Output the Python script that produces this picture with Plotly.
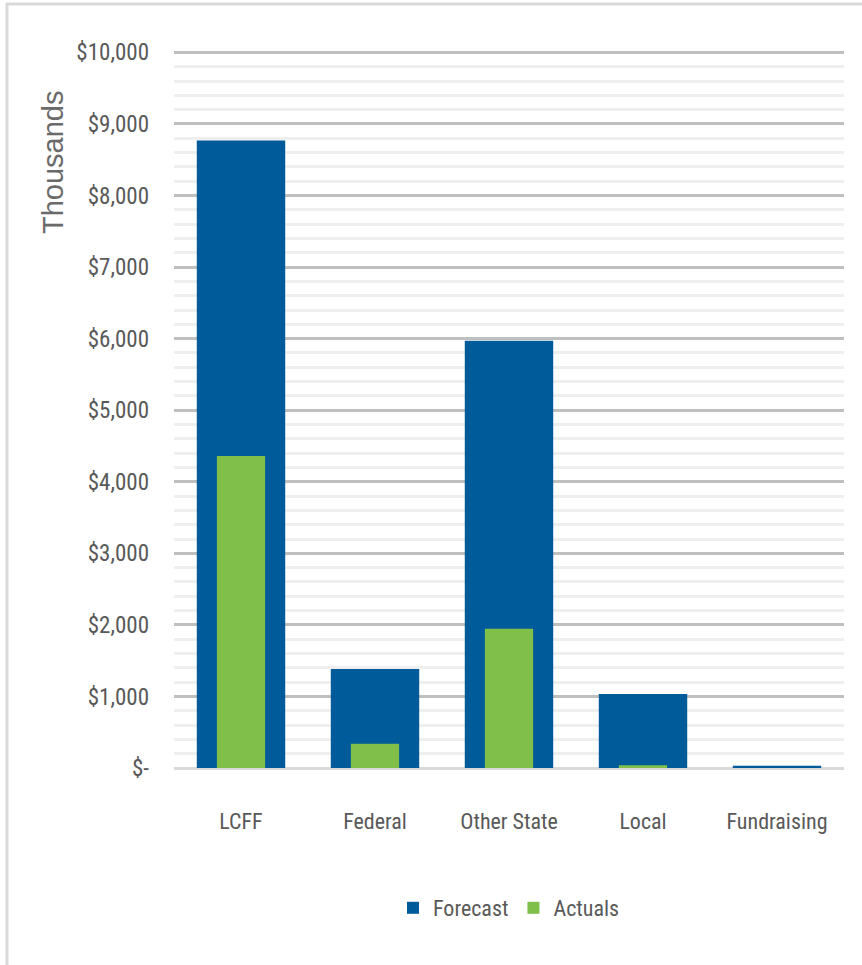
import plotly.graph_objects as go

categories = ["LCFF", "Federal", "Other State", "Local", "Fundraising"]
forecast = [8770, 1385, 5970, 1035, 30]
actuals = [4360, 340, 1945, 40, 0]

tick_vals = [0, 1000, 2000, 3000, 4000, 5000, 6000, 7000, 8000, 9000, 10000]
tick_text = ["$-", "$1,000", "$2,000", "$3,000", "$4,000", "$5,000",
             "$6,000", "$7,000", "$8,000", "$9,000", "$10,000"]

FONT = "Liberation Sans Narrow, Arial Narrow, Roboto Condensed, sans-serif"
GRAY = "#595959"

L, R, T, B = 174, 18, 51, 197
W, H = 862, 965
pw, ph = W - L - R, H - T - B


def px_x(x):
    return (x - L) / pw


def px_y(y):
    return (H - B - y) / ph


fig = go.Figure()
fig.add_trace(go.Bar(x=categories, y=forecast, name="Forecast",
                     marker=dict(color="#005b9a", line=dict(width=0)), width=0.66))
fig.add_trace(go.Bar(x=categories, y=actuals, name="Actuals",
                     marker=dict(color="#7fbf4a", line=dict(width=0)), width=0.36))

fig.update_layout(
    width=W, height=H,
    barmode="overlay",
    plot_bgcolor="white", paper_bgcolor="white",
    margin=dict(l=L, r=R, t=T, b=B),
    font=dict(family=FONT, color=GRAY, size=21),
    showlegend=True,
    legend=dict(orientation="h", x=0.5, xanchor="center", y=px_y(887), yanchor="top",
                font=dict(size=22, family=FONT, color=GRAY), itemwidth=30,
                traceorder="normal"),
    xaxis=dict(showgrid=False, showline=False, ticks="", ticklabelstandoff=38,
               tickfont=dict(size=22, family=FONT, color=GRAY)),
    yaxis=dict(range=[0, 10020], tickvals=tick_vals, ticktext=tick_text,
               showgrid=True, gridcolor="#bfbfbf", gridwidth=2.5,
               zeroline=True, zerolinecolor="#d9d9d9", zerolinewidth=3,
               minor=dict(dtick=200, showgrid=True, gridcolor="#efefef", gridwidth=2.5, ticks=""),
               ticks="", ticklabelstandoff=24,
               tickfont=dict(size=23, family=FONT, color=GRAY)),
    annotations=[dict(text="Thousands", xref="paper", yref="paper",
                      x=px_x(53), y=px_y(162), xanchor="center", yanchor="middle",
                      textangle=-90, showarrow=False,
                      font=dict(family="Liberation Sans, Arial, sans-serif", size=29, color="#6a6a6a"))],
    shapes=[
        dict(type="line", xref="paper", yref="paper", x0=px_x(6), x1=px_x(870), y0=px_y(4), y1=px_y(4),
             line=dict(color="#d9d9d9", width=3)),
        dict(type="line", xref="paper", yref="paper", x0=px_x(7), x1=px_x(7), y0=px_y(3), y1=px_y(975),
             line=dict(color="#d9d9d9", width=3)),
    ],
)

fig.write_html("out.html")
